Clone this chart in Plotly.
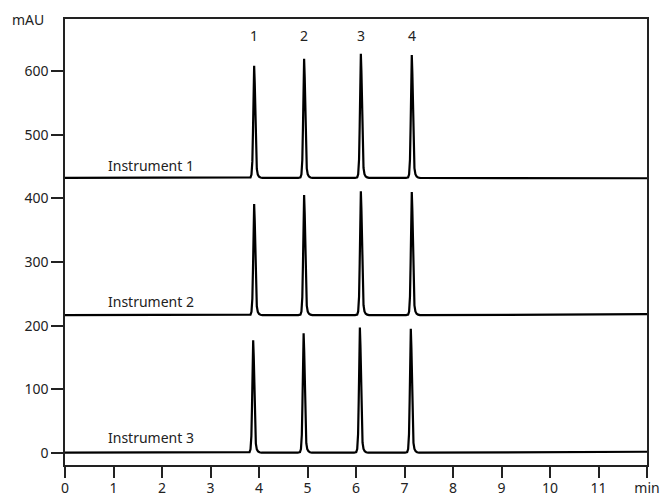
import plotly.graph_objects as go

# ---- data ----
instruments = ["Instrument 1", "Instrument 2", "Instrument 3"]
baseline_start = [432, 216.5, 0.5]
baseline_end = [431.5, 218, 2]
peak_times_1 = [3.90, 4.93, 6.10, 7.15]
peak_times_2 = [3.90, 4.93, 6.10, 7.15]
peak_times_3 = [3.88, 4.92, 6.08, 7.13]
peak_heights_1 = [608, 619, 627, 625]
peak_heights_2 = [391, 405, 411, 410]
peak_heights_3 = [177, 188, 197, 195]
# peak profile (time offset in min, fraction of peak height)
profile_offsets = [-0.12, -0.075, -0.055, -0.037, -0.024, -0.012, 0.0, 0.012, 0.024, 0.037, 0.055, 0.075, 0.10, 0.13, 0.17]
profile_fracs = [0.0, 0.005, 0.03, 0.15, 0.42, 0.82, 1.0, 0.85, 0.52, 0.25, 0.08, 0.03, 0.012, 0.004, 0.0]
peak_labels = ["1", "2", "3", "4"]
label_times = [3.90, 4.93, 6.10, 7.15]
x_tick_vals = list(range(0, 13))
x_tick_text = ["0", "1", "2", "3", "4", "5", "6", "7", "8", "9", "10", "11", "min"]
y_tick_vals = [0, 100, 200, 300, 400, 500, 600]
label_y = [452, 238, 24]

times = [peak_times_1, peak_times_2, peak_times_3]
heights = [peak_heights_1, peak_heights_2, peak_heights_3]

FONT = "Noto Sans, Open Sans, DejaVu Sans, sans-serif"
TXT = "#222222"
FS = 14

fig = go.Figure()
for i, name in enumerate(instruments):
    xs = [0.0]
    ys = [baseline_start[i]]
    for t, h in zip(times[i], heights[i]):
        b = baseline_start[i]
        for o, f in zip(profile_offsets, profile_fracs):
            xs.append(t + o)
            ys.append(b + (h - b) * f)
    xs.append(12.0)
    ys.append(baseline_end[i])
    fig.add_trace(go.Scatter(x=xs, y=ys, mode="lines", name=name,
                             line=dict(color="black", width=2.2),
                             showlegend=False, hoverinfo="skip"))
    fig.add_annotation(x=1.77, y=label_y[i], text=name, showarrow=False,
                       font=dict(family=FONT, size=FS, color=TXT))

for lab, t in zip(peak_labels, label_times):
    fig.add_annotation(x=t, y=655, text=lab, showarrow=False,
                       font=dict(family=FONT, size=FS, color=TXT))

fig.add_annotation(xref="paper", yref="paper", x=-0.032, y=1.0,
                   xanchor="right", yanchor="middle", text="mAU",
                   showarrow=False, font=dict(family=FONT, size=FS, color=TXT))

fig.update_layout(
    width=660, height=496,
    margin=dict(l=65, r=13, t=19, b=31),
    paper_bgcolor="white", plot_bgcolor="white",
    font=dict(family=FONT, size=FS, color=TXT),
)
fig.update_xaxes(range=[0, 12], tickvals=x_tick_vals, ticktext=x_tick_text,
                 ticks="outside", ticklen=11, tickwidth=1.5, tickcolor="#222",
                 showline=True, linecolor="#222", linewidth=1.5, mirror=True,
                 showgrid=False, zeroline=False, automargin=False,
                 ticklabeloverflow="allow", ticklabelstandoff=-2,
                 tickfont=dict(family=FONT, size=FS, color=TXT))
fig.update_yaxes(range=[-18.8, 681.6], tickvals=y_tick_vals,
                 ticks="outside", ticklen=12, tickwidth=1.5, tickcolor="#222",
                 showline=True, linecolor="#222", linewidth=1.5, mirror=True,
                 showgrid=False, zeroline=False, automargin=False,
                 ticklabeloverflow="allow",
                 tickfont=dict(family=FONT, size=FS, color=TXT))

fig.write_html("out.html",
               config={"displayModeBar": False},
               post_script="document.body.style.margin='0';document.body.style.overflow='hidden';")
